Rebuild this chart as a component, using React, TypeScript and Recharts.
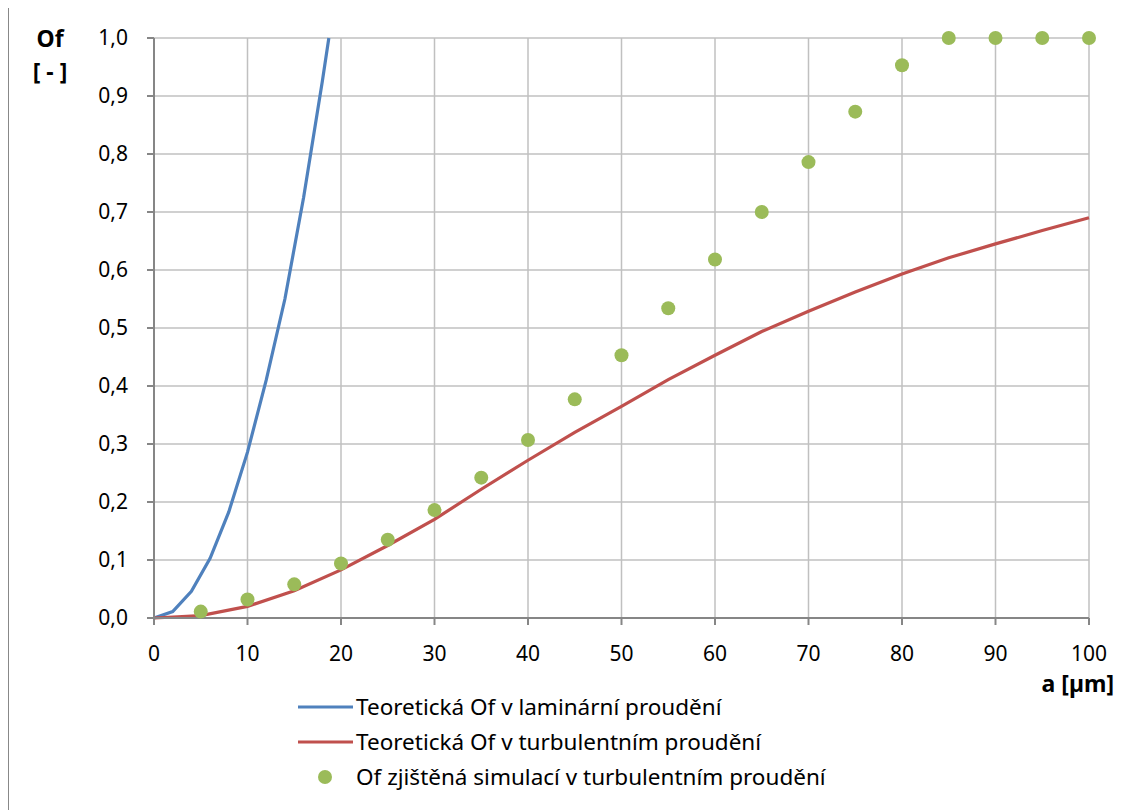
import React from 'react';
import { ComposedChart, Line, Scatter, XAxis, YAxis, CartesianGrid, Legend } from 'recharts';

// Theoretical Of, laminar flow
const laminarA = [0, 2, 4, 6, 8, 10, 12, 14, 16, 18, 18.7];
const laminarOf = [0, 0.011, 0.046, 0.103, 0.183, 0.286, 0.41, 0.55, 0.725, 0.925, 1.0];

// Theoretical Of, turbulent flow
const turbulentA = [0, 5, 10, 15, 20, 25, 30, 35, 40, 45, 50, 55, 60, 65, 70, 75, 80, 85, 90, 95, 100];
const turbulentOf = [
  0, 0.004, 0.02, 0.047, 0.083, 0.125, 0.17, 0.222, 0.272, 0.32, 0.365, 0.411, 0.453, 0.494, 0.529, 0.562,
  0.593, 0.621, 0.645, 0.668, 0.69,
];

// Of from simulation, turbulent flow
const simA = [5, 10, 15, 20, 25, 30, 35, 40, 45, 50, 55, 60, 65, 70, 75, 80, 85, 90, 95, 100];
const simOf = [
  0.011, 0.032, 0.058, 0.094, 0.135, 0.186, 0.242, 0.307, 0.377, 0.453, 0.534, 0.618, 0.7, 0.786, 0.873, 0.953,
  1, 1, 1, 1,
];

const xTicks = [0, 10, 20, 30, 40, 50, 60, 70, 80, 90, 100];
const yTicks = [0, 0.1, 0.2, 0.3, 0.4, 0.5, 0.6, 0.7, 0.8, 0.9, 1.0];

const seriesNames = [
  'Teoretická Of v laminární proudění',
  'Teoretická Of v turbulentním proudění',
  'Of zjištěná simulací v turbulentním proudění',
];

const BLUE = '#4F81BD';
const RED = '#C0504D';
const GREEN = '#9BBB59';
const FONT = '"Noto Sans", sans-serif';

const laminarData = laminarA.map((a, i) => ({ a, of: laminarOf[i] }));
const turbulentData = turbulentA.map((a, i) => ({ a, of: turbulentOf[i] }));
const simData = simA.map((a, i) => ({ a, of: simOf[i] }));

const fmt = (v: number) => v.toFixed(1).replace('.', ',');

const Dot = (p: any) => <circle cx={p.cx} cy={p.cy} r={7} fill={GREEN} />;

const renderLegend = () => (
  <div style={{ fontFamily: FONT, fontSize: 22.5, color: '#000' }}>
    {seriesNames.map((name, i) => (
      <div key={name} style={{ display: 'flex', alignItems: 'center', height: 35 }}>
        <svg width={58} height={20}>
          {i < 2 ? (
            <line x1={0} y1={10} x2={55} y2={10} stroke={i === 0 ? BLUE : RED} strokeWidth={3} />
          ) : (
            <circle cx={27} cy={10} r={7} fill={GREEN} />
          )}
        </svg>
        <span>{name}</span>
      </div>
    ))}
  </div>
);

const App: React.FC = () => {
  return (
    <div
      style={{
        position: 'relative',
        width: 1131,
        height: 804,
        marginTop: -2,
        borderLeft: '1px solid #888',
        borderTop: '1px solid #888',
        background: '#fff',
      }}
    >
      <ComposedChart width={1130} height={800} margin={{ top: 31, right: 50, left: 0, bottom: 149 }}>
        <CartesianGrid stroke="#C0C0C0" strokeWidth={1.5} horizontal vertical />
        <XAxis
          type="number"
          dataKey="a"
          domain={[0, 100]}
          ticks={xTicks}
          height={40}
          stroke="#868686"
          strokeWidth={2}
          tickSize={7}
          tickMargin={21}
          tick={{ fill: '#000', fontSize: 21, fontFamily: FONT }}
          label={{
            content: () => (
              <text x={1105} y={685} textAnchor="end" fontFamily={FONT} fontSize={23} fontWeight="bold" fill="#000">
                a [µm]
              </text>
            ),
          }}
        />
        <YAxis
          type="number"
          dataKey="of"
          domain={[0, 1]}
          ticks={yTicks}
          width={145}
          stroke="#868686"
          strokeWidth={2}
          tickSize={7}
          tickMargin={19}
          tickFormatter={fmt}
          tick={{ fill: '#000', fontSize: 21, fontFamily: FONT }}
          label={{
            content: () => (
              <g fontFamily={FONT} fontSize={23} fontWeight="bold" fill="#000">
                <text x={41} y={40} textAnchor="middle">
                  Of
                </text>
                <text x={41} y={73} textAnchor="middle">
                  [ - ]
                </text>
              </g>
            ),
          }}
        />
        <Line
          data={laminarData}
          dataKey="of"
          name={seriesNames[0]}
          type="linear"
          stroke={BLUE}
          strokeWidth={3.2}
          dot={false}
          isAnimationActive={false}
        />
        <Line
          data={turbulentData}
          dataKey="of"
          name={seriesNames[1]}
          type="linear"
          stroke={RED}
          strokeWidth={3.2}
          dot={false}
          isAnimationActive={false}
        />
        <Scatter data={simData} dataKey="of" name={seriesNames[2]} fill={GREEN} shape={Dot} isAnimationActive={false} />
        <Legend
          layout="horizontal"
          verticalAlign="middle"
          align="center"
          wrapperStyle={{ top: 682, left: 289, width: 680 }}
          content={renderLegend}
        />
      </ComposedChart>
    </div>
  );
};

export default App;
